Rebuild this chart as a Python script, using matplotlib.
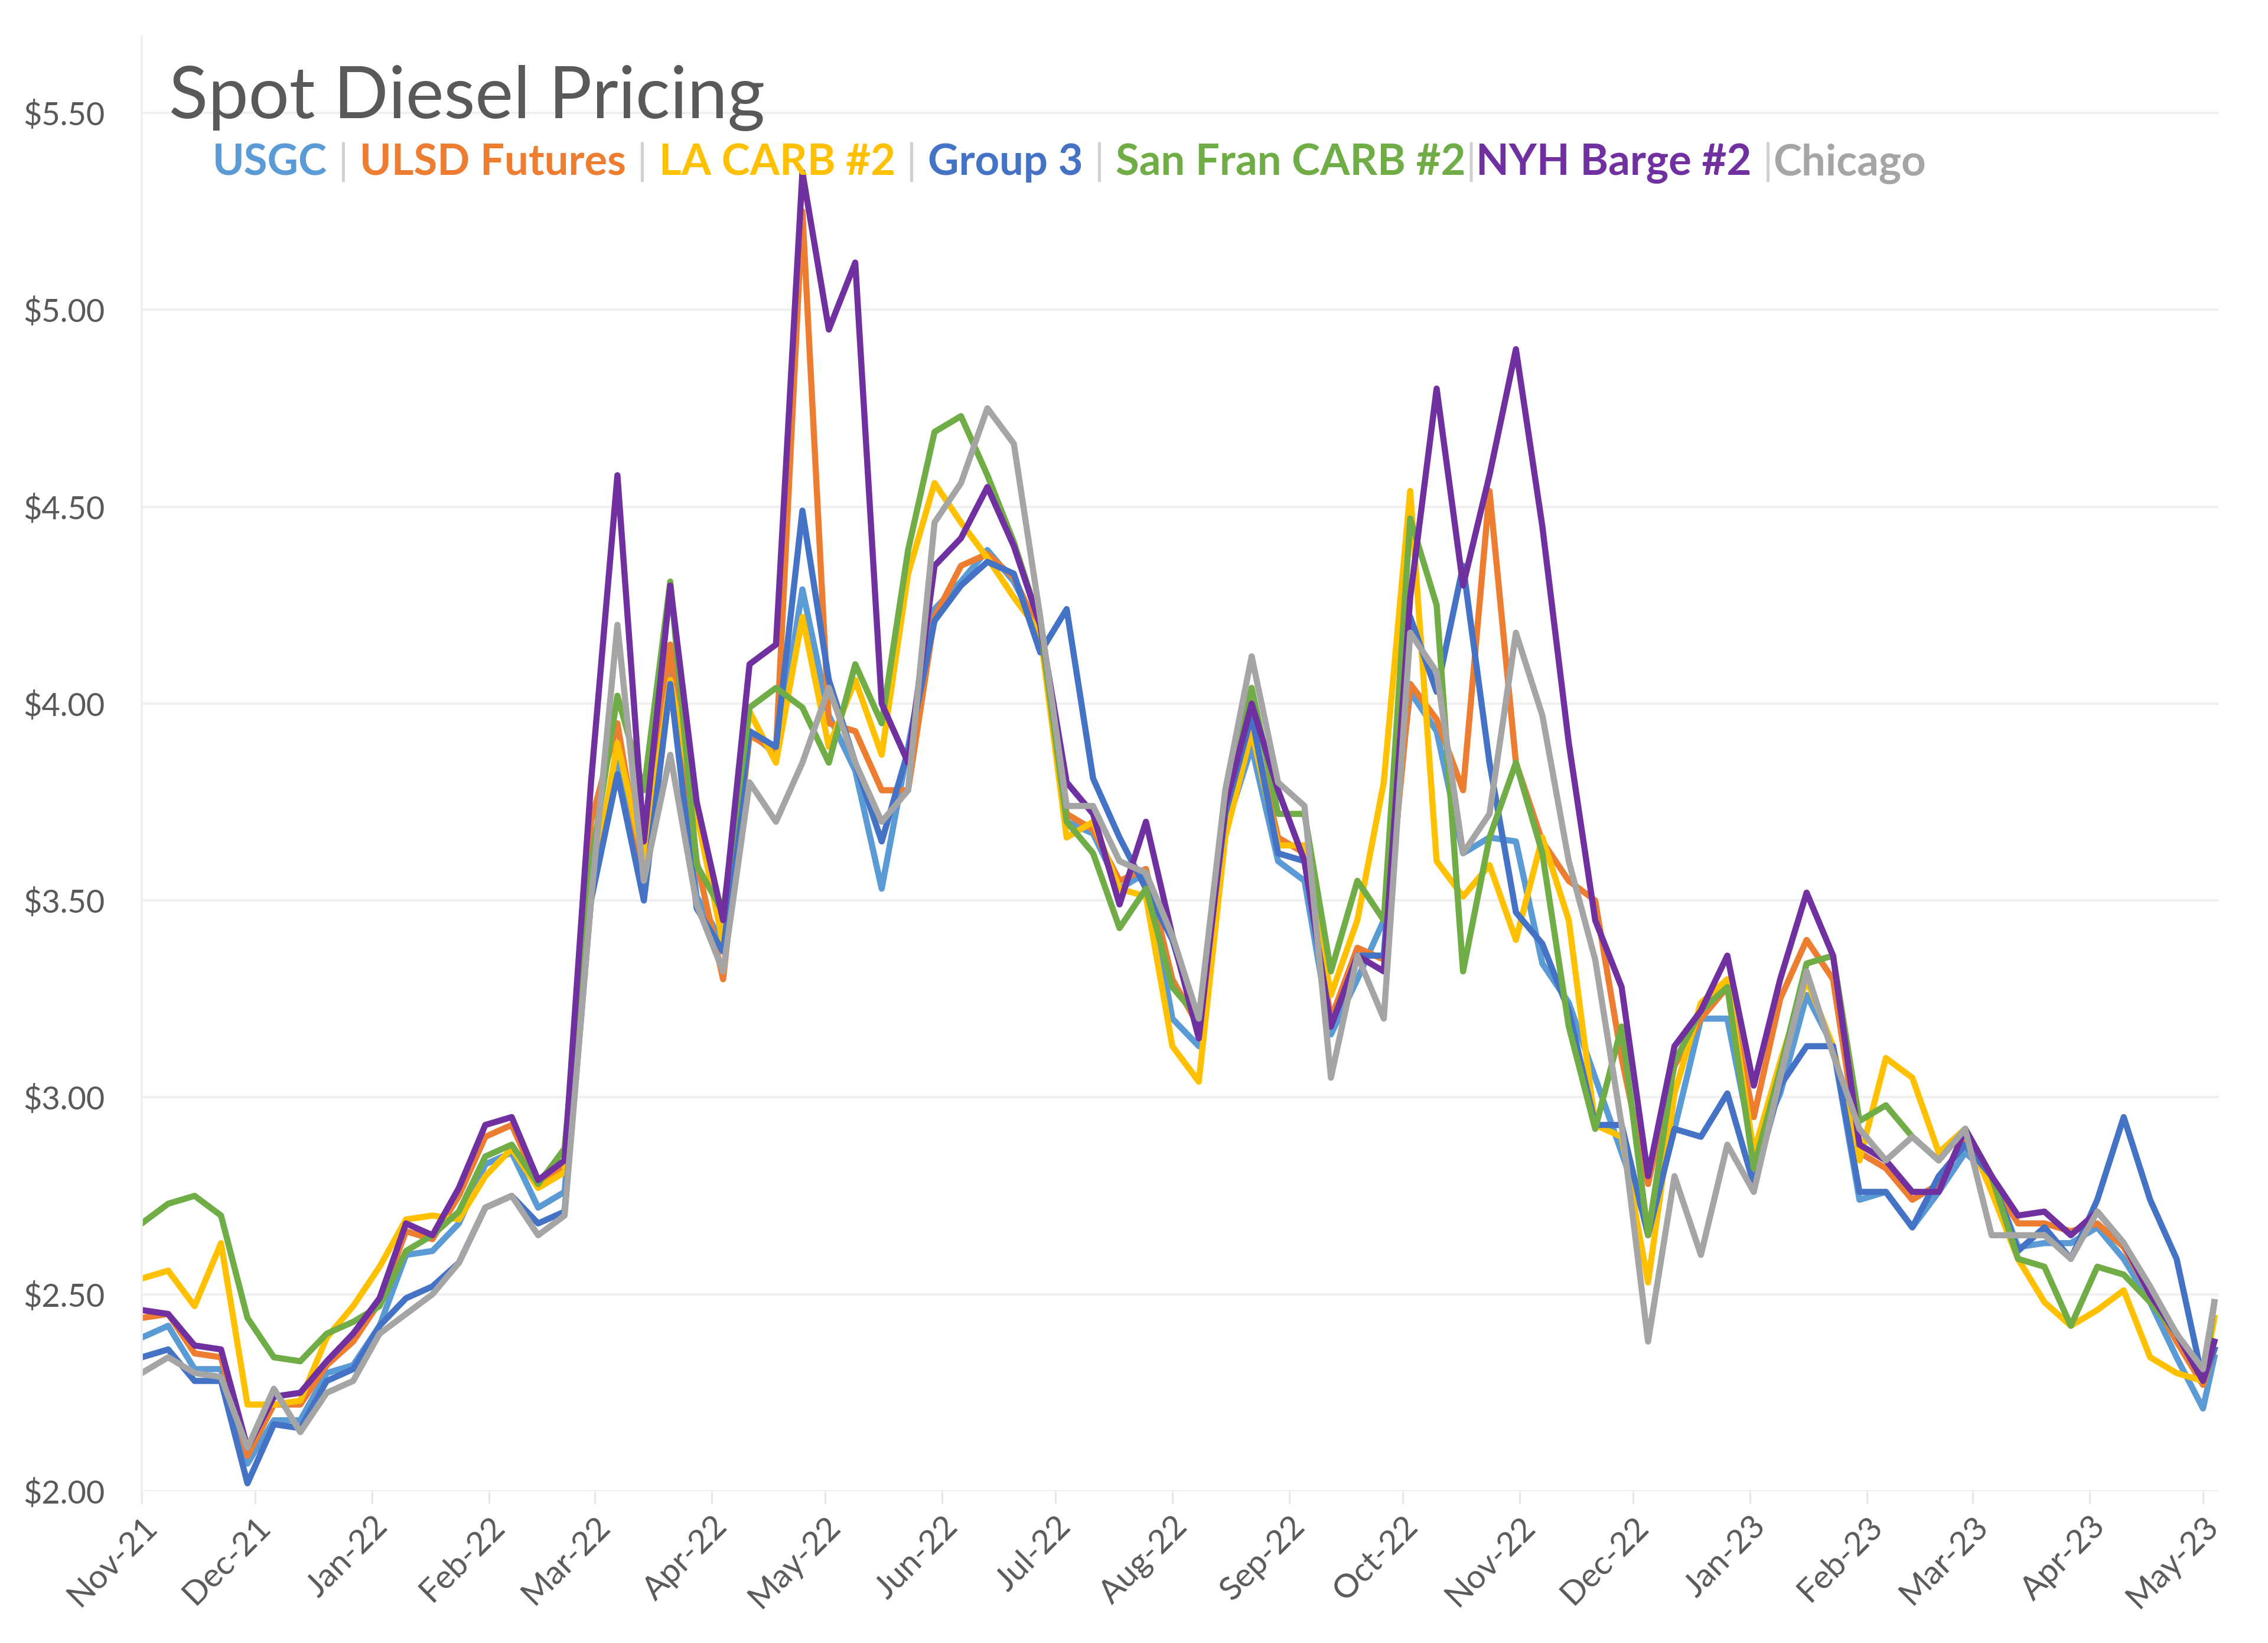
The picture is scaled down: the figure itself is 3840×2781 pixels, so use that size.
import numpy as np
import pandas as pd
import matplotlib
matplotlib.use("Agg")
import matplotlib.pyplot as plt
import matplotlib.dates as mdates

plt.rcParams['font.family'] = ['Lato', 'DejaVu Sans']

# weekly readings, Nov-21 .. May-23, plus the last day shown
dates = list(pd.date_range("2021-11-01", "2023-05-01", freq="7D")) + [pd.Timestamp("2023-05-04")]

usgc = [2.39, 2.42, 2.31, 2.31, 2.07, 2.18, 2.18, 2.30, 2.32, 2.42, 2.60, 2.61, 2.68, 2.83, 2.86, 2.72, 2.76,
        3.55, 3.85, 3.55, 4.08, 3.51, 3.39, 3.93, 3.87, 4.29, 3.97, 3.83, 3.53, 3.89, 4.24, 4.31, 4.39, 4.31, 4.18,
        3.70, 3.67, 3.53, 3.57, 3.20, 3.13, 3.68, 3.89, 3.60, 3.55, 3.16, 3.30, 3.45, 4.03, 3.93, 3.62, 3.66, 3.65, 3.34, 3.24,
        3.05, 2.86, 2.67, 2.92, 3.20, 3.20, 2.86, 3.01, 3.26, 3.13, 2.74, 2.76, 2.67, 2.76, 2.86, 2.80, 2.62, 2.63, 2.63, 2.67,
        2.59, 2.48, 2.34, 2.21, 2.34]
ulsd = [2.44, 2.45, 2.35, 2.34, 2.09, 2.22, 2.22, 2.32, 2.38, 2.48, 2.66, 2.64, 2.75, 2.90, 2.93, 2.78, 2.83,
        3.70, 3.95, 3.55, 4.15, 3.60, 3.30, 3.92, 3.88, 5.25, 3.95, 3.93, 3.78, 3.78, 4.22, 4.35, 4.38, 4.32, 4.18,
        3.72, 3.68, 3.55, 3.58, 3.30, 3.18, 3.72, 3.95, 3.66, 3.62, 3.20, 3.38, 3.35, 4.05, 3.96, 3.78, 4.54, 3.85, 3.65, 3.55,
        3.50, 3.10, 2.78, 3.08, 3.20, 3.28, 2.95, 3.25, 3.40, 3.30, 2.86, 2.82, 2.74, 2.78, 2.90, 2.79, 2.68, 2.68, 2.66, 2.68,
        2.62, 2.50, 2.38, 2.27, 2.36]
la_carb = [2.54, 2.56, 2.47, 2.63, 2.22, 2.22, 2.23, 2.39, 2.47, 2.57, 2.69, 2.70, 2.69, 2.80, 2.87, 2.77, 2.81,
           3.51, 3.90, 3.60, 4.06, 3.72, 3.39, 3.98, 3.85, 4.22, 3.89, 4.06, 3.87, 4.33, 4.56, 4.46, 4.37, 4.27, 4.18,
           3.66, 3.70, 3.53, 3.51, 3.13, 3.04, 3.66, 3.93, 3.64, 3.64, 3.26, 3.45, 3.80, 4.54, 3.60, 3.51, 3.59, 3.40, 3.66, 3.45,
           2.93, 2.90, 2.53, 3.01, 3.24, 3.30, 2.86, 3.09, 3.30, 3.13, 2.84, 3.10, 3.05, 2.86, 2.92, 2.76, 2.59, 2.48, 2.42, 2.46,
           2.51, 2.34, 2.30, 2.28, 2.44]
group3 = [2.34, 2.36, 2.28, 2.28, 2.02, 2.17, 2.16, 2.28, 2.31, 2.42, 2.49, 2.52, 2.58, 2.72, 2.75, 2.68, 2.71,
          3.50, 3.82, 3.50, 4.05, 3.48, 3.37, 3.93, 3.89, 4.49, 4.06, 3.85, 3.65, 3.88, 4.21, 4.30, 4.36, 4.33, 4.13,
          4.24, 3.81, 3.66, 3.53, 3.40, 3.18, 3.72, 3.97, 3.62, 3.60, 3.18, 3.36, 3.36, 4.22, 4.03, 4.35, 3.85, 3.47, 3.39, 3.22,
          2.93, 2.93, 2.65, 2.92, 2.90, 3.01, 2.78, 3.03, 3.13, 3.13, 2.76, 2.76, 2.67, 2.80, 2.88, 2.80, 2.61, 2.67, 2.59, 2.74,
          2.95, 2.74, 2.59, 2.28, 2.36]
sf_carb = [2.68, 2.73, 2.75, 2.70, 2.44, 2.34, 2.33, 2.40, 2.43, 2.47, 2.61, 2.65, 2.71, 2.85, 2.88, 2.78, 2.87,
           3.59, 4.02, 3.78, 4.31, 3.59, 3.47, 3.99, 4.04, 3.99, 3.85, 4.10, 3.95, 4.39, 4.69, 4.73, 4.58, 4.41, 4.20,
           3.70, 3.62, 3.43, 3.53, 3.28, 3.20, 3.74, 4.04, 3.72, 3.72, 3.32, 3.55, 3.45, 4.47, 4.25, 3.32, 3.66, 3.85, 3.62, 3.18,
           2.92, 3.18, 2.65, 3.09, 3.22, 3.28, 2.82, 3.07, 3.34, 3.36, 2.94, 2.98, 2.90, 2.84, 2.92, 2.80, 2.59, 2.57, 2.42, 2.57,
           2.55, 2.48, 2.40, 2.28, 2.48]
nyh = [2.46, 2.45, 2.37, 2.36, 2.11, 2.24, 2.25, 2.33, 2.40, 2.49, 2.68, 2.65, 2.77, 2.93, 2.95, 2.79, 2.84,
       3.80, 4.58, 3.65, 4.30, 3.75, 3.45, 4.10, 4.15, 5.35, 4.95, 5.12, 4.00, 3.85, 4.35, 4.42, 4.55, 4.40, 4.20,
       3.80, 3.72, 3.49, 3.70, 3.41, 3.15, 3.74, 4.00, 3.78, 3.60, 3.18, 3.36, 3.32, 4.27, 4.80, 4.30, 4.58, 4.90, 4.45, 3.90,
       3.45, 3.28, 2.80, 3.13, 3.22, 3.36, 3.03, 3.30, 3.52, 3.36, 2.88, 2.84, 2.76, 2.76, 2.92, 2.80, 2.70, 2.71, 2.65, 2.71,
       2.63, 2.50, 2.40, 2.28, 2.38]
chicago = [2.30, 2.34, 2.30, 2.29, 2.11, 2.26, 2.15, 2.25, 2.28, 2.40, 2.45, 2.50, 2.58, 2.72, 2.75, 2.65, 2.70,
           3.50, 4.20, 3.55, 3.87, 3.49, 3.32, 3.80, 3.70, 3.85, 4.04, 3.85, 3.70, 3.78, 4.46, 4.56, 4.75, 4.66, 4.22,
           3.74, 3.74, 3.60, 3.57, 3.41, 3.20, 3.78, 4.12, 3.80, 3.74, 3.05, 3.36, 3.20, 4.18, 4.08, 3.62, 3.72, 4.18, 3.97, 3.60,
           3.35, 2.93, 2.38, 2.80, 2.60, 2.88, 2.76, 3.05, 3.32, 3.11, 2.92, 2.84, 2.90, 2.84, 2.92, 2.65, 2.65, 2.65, 2.59, 2.71,
           2.63, 2.52, 2.40, 2.31, 2.48]

names = ["USGC", "ULSD Futures", "LA CARB #2", "Group 3", "San Fran CARB #2", "NYH Barge #2", "Chicago"]
series = [usgc, ulsd, la_carb, group3, sf_carb, nyh, chicago]
colors = ["#5B9BD5", "#ED7D31", "#FFC000", "#4472C4", "#70AD47", "#7030A0", "#A5A5A5"]
seps = [" | ", " | ", " | ", " | ", "|", " |"]

fig = plt.figure(figsize=(12.8, 9.27), dpi=300)
ax = fig.add_axes([0.0625, 0.0924, 0.9155, 0.8856])

for s, c in zip(series, colors):
    ax.plot(dates, s, color=c, linewidth=2.5, solid_joinstyle="round")

ax.set_ylim(2.0, 5.695)
ax.set_xlim(pd.Timestamp("2021-11-01"), pd.Timestamp("2023-05-05"))
ax.set_yticks(np.arange(2.0, 5.51, 0.5))
ax.set_yticklabels([f"${v:.2f}" for v in np.arange(2.0, 5.51, 0.5)])
ax.yaxis.grid(True, color="#EFEFEF", linewidth=0.9)
ax.set_axisbelow(True)
ax.xaxis.set_major_locator(mdates.MonthLocator())
ax.xaxis.set_major_formatter(mdates.DateFormatter("%b-%y"))
ax.tick_params(axis="y", length=0, pad=15, labelsize=13, labelcolor="#595959")
ax.tick_params(axis="x", length=5, color="#E8E8E8", pad=3, labelsize=13.5, labelcolor="#595959")
plt.setp(ax.get_xticklabels(), rotation=45, ha="right", va="top", rotation_mode="anchor")
for side in ["top", "right", "bottom"]:
    ax.spines[side].set_visible(False)
ax.spines["left"].set_color("#EEEEEE")
ax.spines["left"].set_linewidth(0.9)

fig.text(0.0746, 0.928, "Spot Diesel Pricing", fontsize=29.3, color="#595959", va="baseline")

# coloured series names across the top, separated by bars
fig.canvas.draw()
r = fig.canvas.get_renderer()
W = fig.bbox.width
x = 0.0938
y = 0.8935
for i, (n, c) in enumerate(zip(names, colors)):
    t = fig.text(x, y, n, fontsize=17.4, fontweight="bold", color=c, va="baseline")
    x += t.get_window_extent(r).width / W
    if i < len(seps):
        t = fig.text(x, y, seps[i], fontsize=17.4, color="#D0D0D0", va="baseline")
        x += t.get_window_extent(r).width / W

fig.savefig("out.png", dpi=300)
